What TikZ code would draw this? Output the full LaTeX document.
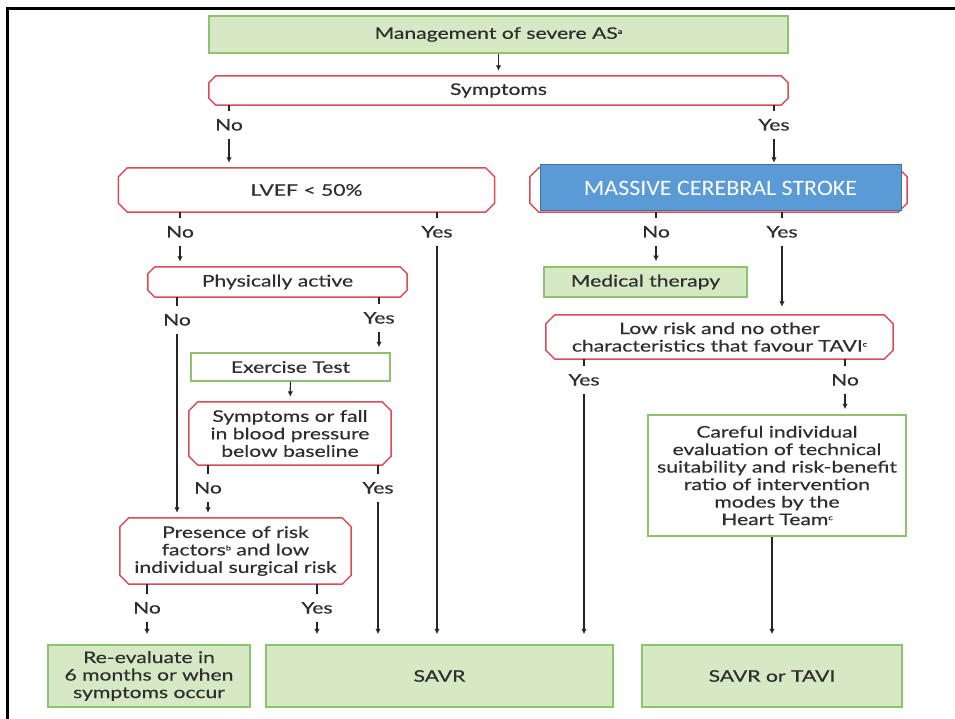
\documentclass[tikz,border=0pt]{standalone}
\usepackage{fontspec}
\setmainfont[FakeStretch=1.32,FakeBold=0.4]{Lato}
\newfontfamily\calfont[FakeStretch=1.09]{Carlito}
\usetikzlibrary{arrows.meta}
\definecolor{redb}{HTML}{D94C58}
\definecolor{greenb}{HTML}{8DC26F}
\definecolor{greenf}{HTML}{D6E8C4}
\definecolor{txt}{HTML}{2E2E2E}
\definecolor{blueF}{HTML}{5B9BD5}
\definecolor{blueD}{HTML}{41719C}
\newcommand\dchamf[2]{\draw[decline] ([xshift=#2pt]#1.north west) -- ([xshift=-#2pt]#1.north east)
  -- ([yshift=-#2pt]#1.north east) -- ([yshift=#2pt]#1.south east) -- ([xshift=-#2pt]#1.south east)
  -- ([xshift=#2pt]#1.south west) -- ([yshift=#2pt]#1.south west) -- ([yshift=-#2pt]#1.north west) -- cycle;}
\newcommand\tinysup[1]{\raisebox{5pt}{\fontsize{7}{7}\selectfont #1}}
\begin{document}
\begin{tikzpicture}[x=1pt,y=-1pt,
 every node/.style={font=\fontsize{16}{17.5}\selectfont, text=txt, align=center, inner sep=0pt},
 gbox/.style={rectangle, draw=greenb, line width=1.5pt, fill=greenf},
 wbox/.style={rectangle, draw=greenb, line width=1.5pt, fill=white},
 dec/.style={rectangle},
 decline/.style={draw=redb, line width=1.5pt, line join=round},
 lab/.style={minimum height=28pt, text height=11pt, text depth=0pt},
 conn/.style={draw=black!85, line width=1.2pt},
 arr/.style={conn, -{Latex[length=5.5pt,width=5.5pt]}, shorten >=5pt},
 arrb/.style={arr, shorten >=10pt},
]
\useasboundingbox (0,0) rectangle (955,719);
\draw[line width=3pt, black] (7.5,719) -- (7.5,9) -- (955,9);

% boxes
\node[gbox, minimum width=579pt, minimum height=37pt] (title) at (498.5,34.5) {Management of severe AS\tinysup{a}};
\node[dec, minimum width=579pt, minimum height=29pt] (sym) at (498.5,90.5) {Symptoms};
\node[dec, minimum width=376pt, minimum height=44pt] (lvef) at (306.5,190) {LVEF < 50\%};
\node[dec, minimum width=377pt, minimum height=44pt] (strokebg) at (718.5,190) {};
\dchamf{sym}{7}
\dchamf{lvef}{9}
\dchamf{strokebg}{9}
\node[rectangle, draw=blueD, line width=1pt, fill=blueF, minimum width=361pt, minimum height=46pt,
      font=\calfont\fontsize{22}{24}\selectfont, text=white] (stroke) at (720.5,188) {MASSIVE CEREBRAL STROKE};
\node[dec, minimum width=259pt, minimum height=30pt] (phys) at (277.5,282) {Physically active};
\dchamf{phys}{7}
\node[wbox, minimum width=199pt, minimum height=28pt] (exer) at (290.5,367) {Exercise Test};
\node[dec, minimum width=202pt, minimum height=63pt] (sym2) at (290,433.5) {Symptoms or fall\\in blood pressure\\below baseline};
\dchamf{sym2}{9}
\node[dec, minimum width=231pt, minimum height=66pt] (risk) at (235.5,551) {Presence of risk\\factors\tinysup{b} and low\\individual surgical risk};
\dchamf{risk}{9}
\node[gbox, minimum width=202pt, minimum height=62pt] (reeval) at (149,676) {Re-evaluate in\\6 months or when\\symptoms occur};
\node[gbox, minimum width=347pt, minimum height=62pt] (savr) at (439.5,676) {SAVR};
\node[gbox, minimum width=260pt, minimum height=62pt] (savrtavi) at (772,676) {SAVR or TAVI};
\node[gbox, minimum width=203pt, minimum height=30pt] (med) at (645.5,282) {Medical therapy};
\node[dec, minimum width=347pt, minimum height=44pt] (low) at (719.5,337) {Low risk and no other\\characteristics that favour TAVI\tinysup{c}};
\dchamf{low}{9}
\node[wbox, minimum width=258pt, minimum height=121pt] (careful) at (777,475.5) {Careful individual\\evaluation of technical\\suitability and risk-benefit\\ratio of intervention\\modes by the\\Heart Team\tinysup{c}};

% labels
\node[lab] (sNo) at (229,125) {No};
\node[lab] (sYes) at (774,125) {Yes};
\node[lab] (lNo) at (180,232) {No};
\node[lab] (lYes) at (437,232) {Yes};
\node[lab] (kNo) at (656,232) {No};
\node[lab] (kYes) at (782,232) {Yes};
\node[lab] (pNo) at (177,320) {No};
\node[lab] (pYes) at (379,318) {Yes};
\node[lab] (oYes) at (584,380) {Yes};
\node[lab] (oNo) at (845,380) {No};
\node[lab] (eNo) at (208,488) {No};
\node[lab] (eYes) at (378,488) {Yes};
\node[lab] (rNo) at (147,608) {No};
\node[lab] (rYes) at (317,608) {Yes};

% connectors
\draw[arr] (title) -- (sym);
\draw[conn] (sym.south -| sNo) -- (sNo.north);
\draw[arr] (sNo.south) -- (lvef.north -| sNo);
\draw[conn] (sym.south -| sYes) -- (sYes.north);
\draw[arr] (sYes.south) -- (strokebg.north -| sYes);

\draw[conn] (lvef.south -| lNo) -- (lNo.north);
\draw[arr] (lNo.south) -- (phys.north -| lNo);
\draw[conn] (lvef.south -| lYes) -- (lYes.north);
\draw[arrb] (lYes.south) -- (savr.north -| lYes);

\draw[conn] (strokebg.south -| kNo) -- (kNo.north);
\draw[arr] (kNo.south) -- (med.north -| kNo);
\draw[conn] (strokebg.south -| kYes) -- (kYes.north);
\draw[arr, shorten >=8pt] (kYes.south) -- (low.north -| kYes);

\draw[conn] (phys.south -| pNo) -- (pNo.north);
\draw[arr] (pNo.south) -- (risk.north -| pNo);
\draw[conn] (phys.south -| pYes) -- (pYes.north);
\draw[arr] (pYes.south) -- (exer.north -| pYes);

\draw[arr] (exer) -- (sym2);

\draw[conn] (sym2.south -| eNo) -- (eNo.north);
\draw[arr] (eNo.south) -- (risk.north -| eNo);
\draw[conn] (sym2.south -| eYes) -- (eYes.north);
\draw[arrb] (eYes.south) -- (savr.north -| eYes);

\draw[conn] (low.south -| oYes) -- (oYes.north);
\draw[arrb] (oYes.south) -- (savr.north -| oYes);
\draw[conn] (low.south -| oNo) -- (oNo.north);
\draw[arr] (oNo.south) -- (careful.north -| oNo);

\draw[conn] (risk.south -| rNo) -- (rNo.north);
\draw[arrb] (rNo.south) -- (reeval.north -| rNo);
\draw[conn] (risk.south -| rYes) -- (rYes.north);
\draw[arrb] (rYes.south) -- (savr.north -| rYes);

\draw[arrb] (careful.south -| savrtavi) -- (savrtavi.north);
\end{tikzpicture}
\end{document}
